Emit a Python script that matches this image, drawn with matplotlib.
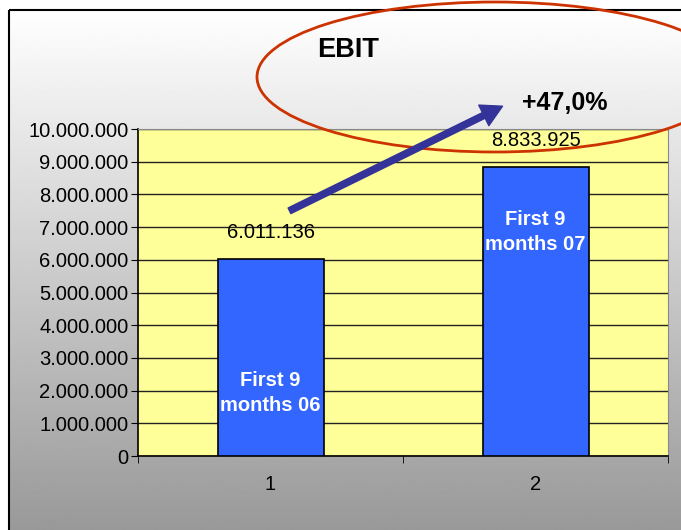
import numpy as np
import matplotlib
matplotlib.use("Agg")
import matplotlib.pyplot as plt
from matplotlib.patches import Ellipse, Rectangle, FancyArrowPatch
from matplotlib.ticker import FuncFormatter

# data
categories = [1, 2]
ebit_values = [6011136, 8833925]
value_labels = ["6.011.136", "8.833.925"]
bar_texts = ["First 9\nmonths 06", "First 9\nmonths 07"]
growth_label = "+47,0%"

plt.rcParams['font.family'] = ['Liberation Sans', 'DejaVu Sans']

W, H = 681, 530
fig = plt.figure(figsize=(W / 100, H / 100), dpi=100)

# background: white outside, grey gradient inside the frame
bg = fig.add_axes([0, 0, 1, 1], zorder=-10)
bg.set_xlim(0, W)
bg.set_ylim(H, 0)
bg.axis("off")
grad = np.linspace(1.0, 0.6, 256).reshape(-1, 1)
bg.imshow(grad, cmap="gray", vmin=0, vmax=1, extent=[9, W, H, 10], aspect="auto")
bg.add_patch(Rectangle((9, 10), W, H, fill=False, edgecolor="black", lw=1.5))

# main chart
ax = fig.add_axes([138 / W, 1 - 456 / H, (668 - 138) / W, (456 - 129) / H])
ax.set_facecolor("#FFFF99")
ax.bar(categories, ebit_values, width=0.4, color="#3366FF", edgecolor="black", lw=1.2, zorder=3)

ax.set_xlim(0.5, 2.5)
ax.set_ylim(0, 10000000)
ax.set_yticks(np.arange(0, 10000001, 1000000))
ax.yaxis.set_major_formatter(FuncFormatter(lambda v, p: f"{int(v):,}".replace(",", ".")))
ax.set_xticks(categories)
ax.set_xticks([0.5, 1.5, 2.5], minor=True)
ax.tick_params(axis="x", which="major", length=0, labelsize=14.5, pad=14)
ax.tick_params(axis="x", which="minor", length=5, direction="out")
ax.tick_params(axis="y", length=5, direction="out", labelsize=14.5, pad=2)
ax.grid(axis="y", color="#222222", lw=1, zorder=1)

for side in ["top", "right"]:
    ax.spines[side].set_color("#888888")
for side in ["left", "bottom"]:
    ax.spines[side].set_color("black")
    ax.spines[side].set_linewidth(1.2)

# value labels above bars
for x, v, lab in zip(categories, ebit_values, value_labels):
    ax.text(x, v + 820000, lab, ha="center", va="center", fontsize=14.5, zorder=5)

# text inside bars
bar_text_y = [1930000, 6850000]
for x, y, t in zip(categories, bar_text_y, bar_texts):
    ax.text(x, y, t, ha="center", va="center", fontsize=14.5, fontweight="bold",
            color="white", linespacing=1.45, zorder=5)

# title and growth annotation
fig.text(348 / W, 1 - 50 / H, "EBIT", ha="center", va="center", fontsize=19.5, fontweight="bold")
fig.text(565 / W, 1 - 103 / H, growth_label, ha="center", va="center", fontsize=18, fontweight="bold")

fig.add_artist(Ellipse((495 / W, 1 - 77 / H), 476 / W, 150 / H, transform=fig.transFigure,
                       fill=False, edgecolor="#CC3300", lw=2, zorder=20))

arrow = FancyArrowPatch((287 / W, 1 - 212 / H), (505 / W, 1 - 105 / H), transform=fig.transFigure,
                        arrowstyle="simple,head_length=1.0,head_width=1.1,tail_width=0.3",
                        mutation_scale=15, color="#333399", zorder=21)
fig.add_artist(arrow)

fig.savefig("out.png", dpi=100)
